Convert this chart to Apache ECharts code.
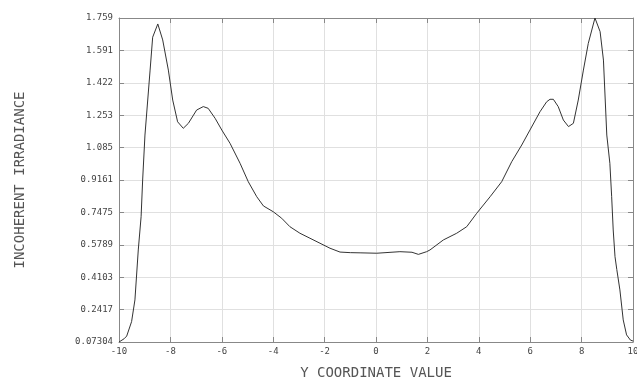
<!DOCTYPE html>
<html>
<head>
<meta charset="utf-8">
<script src="https://cdn.jsdelivr.net/npm/echarts@6/dist/echarts.min.js"></script>
<style>
  html, body { margin: 0; padding: 0; background: #fff; }
  #myChart { width: 637px; height: 380px; }
</style>
</head>
<body>
<div id="myChart"></div>
<script>
// y coordinate samples and irradiance
const yCoord = [-10.0, -9.80, -9.70, -9.51, -9.38, -9.25, -9.14, -9.08, -8.99, -8.79, -8.69, -8.49, -8.30, -8.08, -7.91, -7.72, -7.50, -7.30, -6.98, -6.72, -6.53, -6.26, -6.00, -5.68, -5.29, -4.97, -4.64, -4.38, -4.00, -3.67, -3.35, -2.96, -2.57, -2.18, -1.79, -1.40, -1.00, -0.62, 0.03, 0.93, 1.40, 1.65, 1.97, 2.10, 2.62, 3.14, 3.53, 3.92, 4.44, 4.89, 5.28, 5.67, 5.99, 6.38, 6.64, 6.77, 6.90, 7.09, 7.29, 7.49, 7.68, 7.87, 8.07, 8.26, 8.52, 8.72, 8.85, 8.98, 9.10, 9.17, 9.23, 9.30, 9.37, 9.49, 9.62, 9.75, 9.90, 10.0]
const irradiance = [0.073, 0.090, 0.104, 0.179, 0.292, 0.552, 0.725, 0.916, 1.150, 1.488, 1.659, 1.728, 1.645, 1.488, 1.332, 1.219, 1.185, 1.211, 1.280, 1.298, 1.289, 1.237, 1.176, 1.107, 1.003, 0.907, 0.829, 0.781, 0.751, 0.717, 0.673, 0.639, 0.613, 0.587, 0.561, 0.541, 0.538, 0.537, 0.535, 0.543, 0.540, 0.529, 0.543, 0.552, 0.604, 0.639, 0.673, 0.743, 0.829, 0.907, 1.011, 1.098, 1.176, 1.271, 1.323, 1.336, 1.336, 1.298, 1.228, 1.194, 1.211, 1.332, 1.488, 1.627, 1.759, 1.688, 1.540, 1.150, 1.003, 0.829, 0.656, 0.517, 0.450, 0.344, 0.188, 0.110, 0.083, 0.078]

const xTicks = ['-10', '-8', '-6', '-4', '-2', '0', '2', '4', '6', '8', '10']
const yTicks = ['0.07304', '0.2417', '0.4103', '0.5789', '0.7475', '0.9161', '1.085', '1.253', '1.422', '1.591', '1.759']

const yMin = 0.07304
const yMax = 1.759
const yStep = (yMax - yMin) / 10

const mono = 'DejaVu Sans Mono'
const frame = { onZero: false, lineStyle: { color: '#888', width: 1 } }
const ticksIn = { inside: true, length: 5, lineStyle: { color: '#888' } }

const chart = echarts.init(document.getElementById('myChart'))
const options = {
  animation: false,
  grid: { left: 119, right: 4, top: 18, bottom: 38, outerBoundsMode: 'none', containLabel: false },
  xAxis: [
    {
      type: 'value', min: -10, max: 10, interval: 2,
      name: 'Y COORDINATE VALUE', nameLocation: 'middle', nameGap: 24,
      nameTextStyle: { fontFamily: mono, fontSize: 14, color: '#555' },
      axisLine: frame, axisTick: ticksIn,
      axisLabel: {
        fontFamily: mono, fontSize: 9, color: '#444', margin: 5,
        formatter: v => xTicks[Math.round((v + 10) / 2)]
      },
      splitLine: { show: true, lineStyle: { color: '#e0e0e0' } }
    },
    {
      type: 'value', min: -10, max: 10, interval: 2, position: 'top',
      axisLine: frame, axisTick: ticksIn, axisLabel: { show: false }, splitLine: { show: false }
    }
  ],
  yAxis: [
    {
      type: 'value', min: yMin, max: yMax, interval: yStep,
      name: 'INCOHERENT IRRADIANCE', nameLocation: 'middle', nameGap: 92, nameRotate: 90,
      nameTextStyle: { fontFamily: mono, fontSize: 14, color: '#555' },
      axisLine: frame, axisTick: ticksIn,
      axisLabel: {
        fontFamily: mono, fontSize: 9, color: '#444', margin: 6,
        formatter: v => yTicks[Math.round((v - yMin) / yStep)]
      },
      splitLine: { show: true, lineStyle: { color: '#e0e0e0' } }
    },
    {
      type: 'value', min: yMin, max: yMax, interval: yStep, position: 'right',
      axisLine: frame, axisTick: ticksIn, axisLabel: { show: false }, splitLine: { show: false }
    }
  ],
  series: [{
    type: 'line',
    data: yCoord.map((x, i) => [x, irradiance[i]]),
    showSymbol: false,
    lineStyle: { color: '#333', width: 1 }
  }]
}

chart.setOption(options)
</script>
</body>
</html>
